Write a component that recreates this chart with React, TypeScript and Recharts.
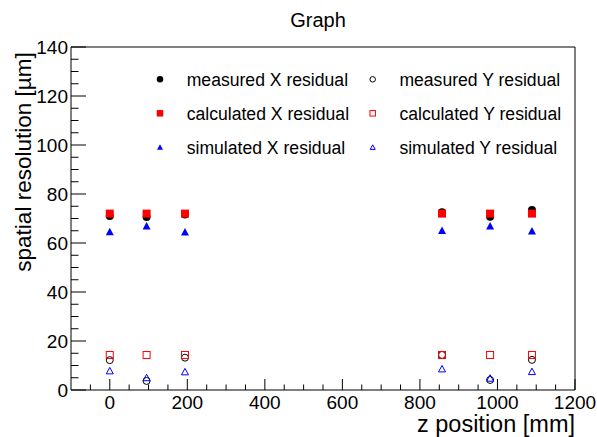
import React from 'react';
import { ScatterChart, Scatter, XAxis, YAxis, ReferenceArea, Legend, Label } from 'recharts';

const zPositions = [0, 95, 194, 857, 981, 1089];
const measuredX = [71.0, 70.6, 71.6, 72.6, 70.7, 73.5];
const calculatedX = [72.0, 72.0, 72.0, 72.0, 72.0, 72.0];
const simulatedX = [64.6, 66.9, 64.5, 65.1, 66.9, 64.9];
const measuredY = [12.2, 3.7, 13.2, 14.3, 4.1, 12.3];
const calculatedY = [14.3, 14.3, 14.3, 14.3, 14.3, 14.3];
const simulatedY = [7.8, 5.0, 7.4, 8.6, 4.8, 7.5];

const seriesNames = [
  'measured X residual',
  'measured Y residual',
  'calculated X residual',
  'calculated Y residual',
  'simulated X residual',
  'simulated Y residual',
];

const xTicks = [-50, 0, 50, 100, 150, 200, 250, 300, 350, 400, 450, 500, 550, 600, 650, 700, 750, 800, 850, 900, 950, 1000, 1050, 1100, 1150, 1200];
const xMajorTicks = [0, 200, 400, 600, 800, 1000, 1200];
const yTicks = [0, 5, 10, 15, 20, 25, 30, 35, 40, 45, 50, 55, 60, 65, 70, 75, 80, 85, 90, 95, 100, 105, 110, 115, 120, 125, 130, 135, 140];
const yMajorTicks = [0, 20, 40, 60, 80, 100, 120, 140];

const FONT = '"Liberation Sans", Arial, Helvetica, sans-serif';

type Kind = 'circle' | 'square' | 'triangle';

const Marker = ({ kind, color, filled, cx, cy, s }: { kind: Kind; color: string; filled: boolean; cx: number; cy: number; s: number }) => {
  const fill = filled ? color : 'none';
  const sw = filled ? 0 : 1;
  if (kind === 'circle') {
    return <circle cx={cx} cy={cy} r={filled ? s / 2 : s / 2 - 0.5} fill={fill} stroke={color} strokeWidth={sw} />;
  }
  if (kind === 'square') {
    const h = filled ? s / 2 : s / 2 - 0.5;
    return <rect x={cx - h} y={cy - h} width={2 * h} height={2 * h} fill={fill} stroke={color} strokeWidth={sw} />;
  }
  const h = filled ? s / 2 : s / 2 - 0.5;
  return (
    <polygon
      points={`${cx},${cy - h} ${cx + h},${cy + h * 0.85} ${cx - h},${cy + h * 0.85}`}
      fill={fill}
      stroke={color}
      strokeWidth={sw}
    />
  );
};

const seriesStyles: { kind: Kind; color: string; filled: boolean }[] = [
  { kind: 'circle', color: '#000000', filled: true },
  { kind: 'circle', color: '#000000', filled: false },
  { kind: 'square', color: '#ff0000', filled: true },
  { kind: 'square', color: '#ff0000', filled: false },
  { kind: 'triangle', color: '#0000ff', filled: true },
  { kind: 'triangle', color: '#0000ff', filled: false },
];

const seriesValues = [measuredX, measuredY, calculatedX, calculatedY, simulatedX, simulatedY];

const seriesData = seriesValues.map((vals) => zPositions.map((z, i) => ({ x: z, y: vals[i] })));

const drawOrder = [0, 1, 2, 3, 4, 5];

const XTick = (props: any) => {
  const { x, y, payload } = props;
  const v = payload.value;
  const major = xMajorTicks.includes(v);
  return (
    <g>
      <line x1={x} x2={x} y1={y} y2={y - (major ? 11 : 5.5)} stroke="#000" strokeWidth={1} />
      {major && (
        <text x={x} y={y + 18.5} textAnchor="middle" fontSize={19} fontFamily={FONT} fill="#000">
          {v}
        </text>
      )}
    </g>
  );
};

const YTick = (props: any) => {
  const { x, y, payload } = props;
  const v = payload.value;
  const major = yMajorTicks.includes(v);
  return (
    <g>
      <line x1={x} x2={x + (major ? 15 : 7.5)} y1={y} y2={y} stroke="#000" strokeWidth={1} />
      {major && (
        <text x={x - 3} y={y} dy="0.36em" textAnchor="end" fontSize={19} fontFamily={FONT} fill="#000">
          {v}
        </text>
      )}
    </g>
  );
};

const legendRows = [
  [0, 1],
  [2, 3],
  [4, 5],
];

const Overlay = () => (
  <svg width={597} height={437} style={{ position: 'absolute', left: 0, top: 0 }}>
    <text x={318} y={27} textAnchor="middle" fontSize={20} fontFamily={FONT} fill="#000">
      Graph
    </text>
    {legendRows.map((row, r) =>
      row.map((si, c) => {
        const mx = c === 0 ? 160 : 372.7;
        const ty = 79.3 + r * 34;
        const st = seriesStyles[si];
        return (
          <g key={si}>
            <Marker kind={st.kind} color={st.color} filled={st.filled} cx={mx} cy={ty} s={st.kind === 'triangle' ? 6 : 6.5} />
            <text x={mx + 26.7} y={ty} dy="0.36em" fontSize={17.6} fontFamily={FONT} fill="#000">
              {seriesNames[si]}
            </text>
          </g>
        );
      })
    )}
  </svg>
);

export default function App() {
  return (
    <div style={{ position: 'absolute', left: 0, top: 0, width: 597, height: 437, background: '#fff' }}>
      <ScatterChart width={597} height={437} margin={{ top: 47, right: 22, bottom: 0, left: 0 }}>
        <XAxis
          type="number"
          dataKey="x"
          domain={[-100, 1200]}
          ticks={xTicks}
          interval={0}
          allowDataOverflow
          tick={(p: any) => <XTick {...p} />}
          tickLine={false}
          axisLine={false}
          tickSize={0}
          tickMargin={0}
          height={47}
        >
          <Label
            content={() => (
              <text x={575} y={432} textAnchor="end" fontSize={23.5} fontFamily={FONT} fill="#000">
                z position [mm]
              </text>
            )}
          />
        </XAxis>
        <YAxis
          type="number"
          dataKey="y"
          domain={[0, 140]}
          ticks={yTicks}
          interval={0}
          allowDataOverflow
          tick={(p: any) => <YTick {...p} />}
          tickLine={false}
          axisLine={false}
          tickSize={0}
          tickMargin={0}
          width={71}
        >
          <Label
            content={() => (
              <text x={31} y={162} transform="rotate(-90, 31, 162)" textAnchor="middle" fontSize={22.5} fontFamily={FONT} fill="#000">
                spatial resolution [µm]
              </text>
            )}
          />
        </YAxis>
        <ReferenceArea x1={-100} x2={1200} y1={0} y2={140} fill="none" fillOpacity={0} stroke="#000" strokeWidth={1} strokeOpacity={1} ifOverflow="visible" />
        {drawOrder.map((si) => {
          const st = seriesStyles[si];
          return (
            <Scatter
              key={si}
              name={seriesNames[si]}
              data={seriesData[si]}
              isAnimationActive={false}
              shape={(p: any) => <Marker kind={st.kind} color={st.color} filled={st.filled} cx={p.cx} cy={p.cy} s={8} />}
            />
          );
        })}
        <Legend
          layout="horizontal"
          verticalAlign="middle"
          align="center"
          wrapperStyle={{ position: 'absolute', left: 0, top: 0, width: 597, height: 437, pointerEvents: 'none' }}
          content={() => <Overlay />}
        />
      </ScatterChart>
    </div>
  );
}
